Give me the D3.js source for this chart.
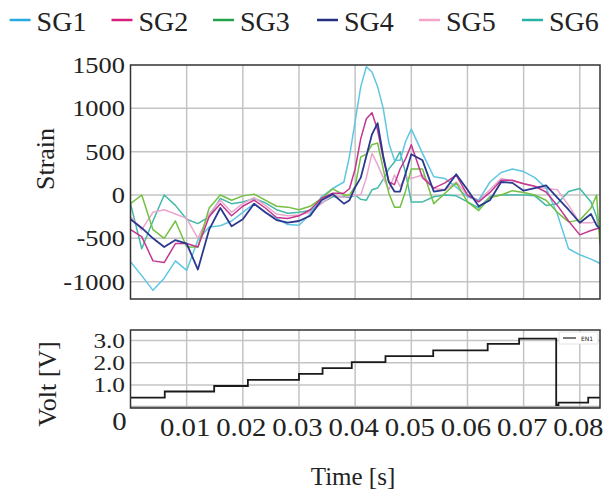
<!DOCTYPE html>
<html>
<head>
<meta charset="utf-8">
<script src="https://cdn.jsdelivr.net/npm/d3@7"></script>
<style>
  body { margin: 0; background: #fff; }
  svg text { font-family: "Times New Roman", "Liberation Serif", Tinos, Times, serif; fill: #222; }
</style>
</head>
<body>
<div id="chart"></div>
<script>
// time samples in milliseconds (shared by all strain gauges)
const timeMs = [0, 2, 4, 6, 8, 10, 12, 14, 16, 18, 20, 22, 24, 26, 28, 30, 32, 34, 36, 38,
  39, 40, 41, 42, 43, 44, 45, 46, 47, 48, 49, 50, 52, 54, 56, 58, 60, 62, 64, 66, 68, 70,
  72, 74, 76, 78, 80, 82, 83, 83.6];

const sg1 = [-770, -930, -1100, -960, -760, -870, -520, -370, -355, -300, -200, -100, -200, -270, -340, -350, -220, -20, 75, 150,
  450, 850, 1250, 1480, 1420, 1250, 1000, 600, 400, 400, 620, 760, 480, 210, 190, 90, -20, -60, 150, 260, 300, 270,
  200, 80, -220, -620, -690, -740, -770, -790];
const sg2 = [-400, -480, -760, -780, -560, -560, -600, -250, -100, -240, -130, -60, -150, -260, -270, -240, -170, -40, 20, 20,
  75, 300, 650, 880, 950, 750, 420, 150, 120, 300, 420, 580, 200, 80, 140, 230, 0, -80, 30, 170, 170, 130,
  100, 35, -120, -300, -460, -410, -390, -380];
const sg3 = [-100, 0, -400, -500, -300, -600, -600, -150, 0, -60, -10, 10, -60, -130, -140, -170, -130, -40, 70, 0,
  0, 100, 440, 470, 580, 600, 300, 20, -140, -140, 50, 300, 300, -100, 20, 140, -80, -180, -30, 0, 50, 30,
  0, -60, -200, -310, -290, -150, 0, -580];
const sg4 = [-280, -380, -500, -600, -520, -560, -860, -400, -150, -360, -280, -100, -200, -290, -320, -300, -240, -60, 10, -100,
  -60, 90, 200, 450, 700, 830, 450, 150, 40, 40, 250, 470, 400, 40, 60, 240, 60, -130, -60, 150, 140, 50,
  80, 110, -30, -170, -320, -220, -350, -390];
const sg5 = [-250, -400, -200, -170, -220, -270, -500, -220, -60, -200, -100, -30, -120, -220, -240, -230, -200, -100, 0, -30,
  -10, 0, 0, 200, 480, 350, 200, 60, 230, 100, 210, 190, 230, 75, 60, 150, 0, -60, 60, 190, 160, 130,
  100, 75, 60, -120, -320, -320, -310, -300];
const sg6 = [-100, -620, -300, 0, -120, -280, -330, -250, -40, -100, -80, -40, -90, -170, -210, -200, -180, -90, -20, -20,
  -30, 0, -50, -60, 60, 80, 180, 300, 380, 500, 250, -80, -80, -20, 0, -10, -80, -150, -20, 0, 0, 0,
  -10, -120, -100, 40, 75, -80, -250, -450];

const seriesNames = ['SG1', 'SG2', 'SG3', 'SG4', 'SG5', 'SG6'];
const seriesValues = [sg1, sg2, sg3, sg4, sg5, sg6];

// excitation voltage, step changes (ms, V)
const voltTimes = [0, 6.1, 14.9, 20.9, 30.0, 34.2, 39.4, 45.4, 53.9, 63.6, 69.2, 75.8, 76.2, 81.5, 83.6];
const voltValues = [0.42, 0.70, 0.95, 1.23, 1.50, 1.76, 2.03, 2.30, 2.56, 2.85, 3.09, 0.09, 0.20, 0.42, 0.42];

const strainTicks = [-1000, -500, 0, 500, 1000, 1500];
const voltTicks = [1, 2, 3];
const voltTickLabels = ['1.0', '2.0', '3.0'];
const timeTicks = [0, 10, 20, 30, 40, 50, 60, 70, 80];
const timeTickLabels = ['0', '0.01', '0.02', '0.03', '0.04', '0.05', '0.06', '0.07', '0.08'];

const lineColors = ['#5fc6e2', '#c4368f', '#74c043', '#2b388f', '#eca6cd', '#43b9a8'];
const legendColors = ['#27aae1', '#d4217f', '#21a34b', '#262f80', '#f3a5c9', '#28b2a6'];

const W = 604, H = 490;
const svg = d3.select('#chart').append('svg')
  .attr('width', W).attr('height', H);

const x = d3.scaleLinear().domain([0, 83.6]).range([130.5, 600]);
const yS = d3.scaleLinear().domain([-1200, 1500]).range([299, 65]);
const yV = d3.scaleLinear().domain([-0.045, 3.48]).range([408, 330]);

const gridColor = '#c4c4c4';

// ---------- top panel (strain) ----------
const topPanel = svg.append('g');
topPanel.append('clipPath').attr('id', 'clipTop')
  .append('rect').attr('x', 130.5).attr('y', 65).attr('width', 469.5).attr('height', 234);

topPanel.append('g').selectAll('line')
  .data(timeTicks.slice(1)).join('line')
  .attr('x1', d => x(d)).attr('x2', d => x(d))
  .attr('y1', 65).attr('y2', 299)
  .attr('stroke', gridColor).attr('stroke-width', 1.5);
topPanel.append('g').selectAll('line')
  .data(strainTicks.slice(0, -1)).join('line')
  .attr('x1', 130.5).attr('x2', 600)
  .attr('y1', d => yS(d)).attr('y2', d => yS(d))
  .attr('stroke', gridColor).attr('stroke-width', 1.5);

const strainLine = d3.line()
  .x((d, i) => x(timeMs[i]))
  .y(d => yS(d));

// draw in an order so the darker lines sit on top like the reference
const drawOrder = [5, 4, 0, 2, 1, 3];
topPanel.append('g').attr('clip-path', 'url(#clipTop)')
  .selectAll('path').data(drawOrder).join('path')
  .attr('d', k => strainLine(seriesValues[k]))
  .attr('fill', 'none')
  .attr('stroke', k => lineColors[k])
  .attr('stroke-width', k => k === 3 ? 1.8 : 1.5)
  .attr('stroke-linejoin', 'round');

topPanel.append('rect').attr('x', 130.5).attr('y', 65).attr('width', 469.5).attr('height', 234)
  .attr('fill', 'none').attr('stroke', '#333').attr('stroke-width', 1.5);

topPanel.append('g').selectAll('text').data(strainTicks).join('text')
  .attr('transform', d => 'translate(125,' + (yS(d) + 8) + ') scale(1.15,1)')
  .attr('text-anchor', 'end')
  .style('font-size', '23px')
  .text(d => d);

svg.append('text')
  .attr('transform', 'translate(54,159) rotate(-90)')
  .attr('text-anchor', 'middle')
  .style('font-size', '26px')
  .text('Strain');

// ---------- bottom panel (voltage) ----------
const botPanel = svg.append('g');
botPanel.append('g').selectAll('line')
  .data(timeTicks.slice(1)).join('line')
  .attr('x1', d => x(d)).attr('x2', d => x(d))
  .attr('y1', 330).attr('y2', 408)
  .attr('stroke', gridColor).attr('stroke-width', 1.5);
botPanel.append('g').selectAll('line')
  .data([0].concat(voltTicks)).join('line')
  .attr('x1', 130.5).attr('x2', 600)
  .attr('y1', d => yV(d)).attr('y2', d => yV(d))
  .attr('stroke', d => d === 0 ? '#b0b0b0' : gridColor)
  .attr('stroke-width', d => d === 0 ? 2.5 : 1.5);

const voltLine = d3.line()
  .x((d, i) => x(voltTimes[i]))
  .y(d => yV(d))
  .curve(d3.curveStepAfter);
botPanel.append('path')
  .attr('d', voltLine(voltValues))
  .attr('fill', 'none').attr('stroke', '#1a1a1a').attr('stroke-width', 1.8);

// EN1 legend box
botPanel.append('rect').attr('x', 559).attr('y', 332).attr('width', 39).attr('height', 12)
  .attr('fill', '#fff').attr('stroke', '#ddd').attr('stroke-width', 0.8);
botPanel.append('line').attr('x1', 563).attr('x2', 576).attr('y1', 338).attr('y2', 338)
  .attr('stroke', '#222').attr('stroke-width', 1.2);
botPanel.append('text').attr('x', 581).attr('y', 340.5)
  .style('font-family', 'DejaVu Sans').style('font-size', '6px')
  .text('EN1');

botPanel.append('rect').attr('x', 130.5).attr('y', 330).attr('width', 469.5).attr('height', 78)
  .attr('fill', 'none').attr('stroke', '#333').attr('stroke-width', 1.5);

botPanel.append('g').selectAll('text').data(voltTicks).join('text')
  .attr('transform', d => 'translate(125,' + (yV(d) + 7) + ') scale(1.15,1)')
  .attr('text-anchor', 'end')
  .style('font-size', '22px')
  .text((d, i) => voltTickLabels[i]);

// time axis labels (first one sits a bit left and higher, as in the original)
botPanel.append('g').selectAll('text').data(timeTicks).join('text')
  .attr('transform', (d, i) => i === 0
    ? 'translate(' + (x(d) - 11) + ',430) scale(1.15,1)'
    : 'translate(' + (x(d) - 1.5) + ',436) scale(1.15,1)')
  .attr('text-anchor', 'middle')
  .style('font-size', '25px')
  .text((d, i) => timeTickLabels[i]);

svg.append('text')
  .attr('transform', 'translate(56,384) rotate(-90)')
  .attr('text-anchor', 'middle')
  .style('font-size', '26px')
  .text('Volt [V]');

svg.append('text')
  .attr('x', 353).attr('y', 485)
  .attr('text-anchor', 'middle')
  .style('font-size', '25px')
  .text('Time [s]');

// ---------- legend ----------
const legendX = [9.6, 111.5, 213, 317, 419, 522];
const leg = svg.append('g').selectAll('g').data(seriesNames).join('g')
  .attr('transform', (d, i) => 'translate(' + legendX[i] + ',0)');
leg.append('line')
  .attr('x1', 0).attr('x2', 21).attr('y1', 20).attr('y2', 20)
  .attr('stroke', (d, i) => legendColors[i]).attr('stroke-width', 2.5);
leg.append('text')
  .attr('transform', 'translate(27,31)')
  .style('font-size', '28px')
  .text(d => d);
</script>
</body>
</html>
